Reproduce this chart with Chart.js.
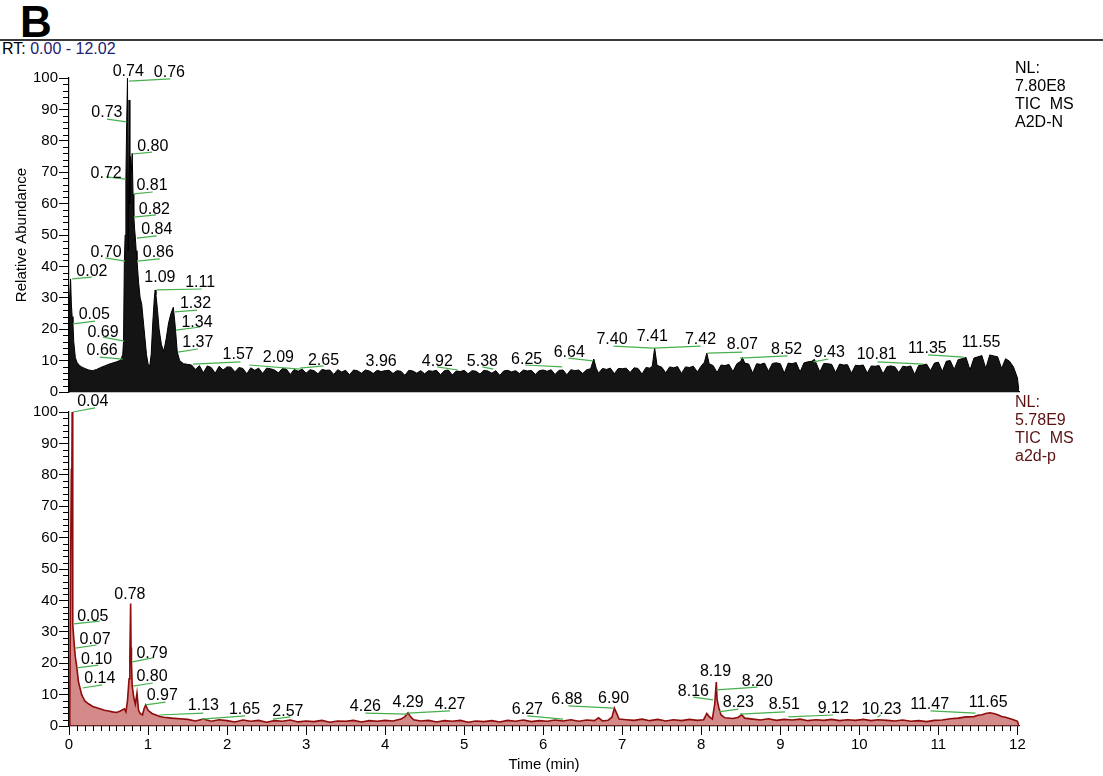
<!DOCTYPE html>
<html lang="en">
<head>
<meta charset="UTF-8">
<title>TIC MS - A2D-N / a2d-p</title>
<script src="https://cdn.jsdelivr.net/npm/chart.js"></script>
<style>
    body {
        margin: 0;
        background: #fff;
        font-family: Arial, "Liberation Sans", sans-serif;
    }
    #wrap {
        position: relative;
        width: 1103px;
        height: 776px;
        overflow: hidden;
    }
    canvas {
        position: absolute;
        left: 0;
        top: 0;
    }
    .txt {
        position: absolute;
        white-space: pre;
        font-size: 16px;
        line-height: 18px;
    }
</style>
</head>
<body>
<div id="wrap">
    <div class="txt" style="left:20px;top:0;font-weight:bold;font-size:44px;line-height:44px">B</div>
    <div style="position:absolute;left:0;top:39px;width:1103px;height:2px;background:#3a3a3a"></div>
    <div class="txt" style="left:2px;top:40px">RT: <span style="color:#1c2270">0.00 - 12.02</span></div>

    <canvas id="topChart" width="1103" height="776"></canvas>
    <canvas id="bottomChart" width="1103" height="776"></canvas>

    <div class="txt" style="left:1015px;top:59px;color:#000">NL:<br>7.80E8<br>TIC  MS<br>A2D-N</div>
    <div class="txt" style="left:1015px;top:393px;color:#5a1212">NL:<br>5.78E9<br>TIC  MS<br>a2d-p</div>
</div>

<script>
// ---- top trace: A2D-N (time in min, relative abundance in %)
const topTime = [
    0.00, 0.005, 0.01, 0.02, 0.03, 0.04, 0.05, 0.06, 0.08, 0.10,
    0.13, 0.16, 0.20, 0.25, 0.30, 0.35, 0.40, 0.45, 0.50, 0.55,
    0.60, 0.64, 0.66, 0.68, 0.69, 0.70, 0.71, 0.72, 0.73, 0.74,
    0.75, 0.76, 0.77, 0.78, 0.79, 0.80, 0.81, 0.82, 0.83, 0.84,
    0.85, 0.86, 0.88, 0.90, 0.92, 0.95, 0.98, 1.00, 1.02, 1.04,
    1.06, 1.08, 1.09, 1.10, 1.12, 1.14, 1.17, 1.20, 1.23, 1.26,
    1.29, 1.32, 1.34, 1.35, 1.37, 1.40, 1.45, 1.50,
    1.55, 1.60, 1.65, 1.70, 1.75, 1.80, 1.85, 1.90, 1.95, 2.00,
    2.05, 2.10, 2.15, 2.20, 2.25, 2.30, 2.35, 2.40, 2.45, 2.50,
    2.55, 2.60, 2.65, 2.70, 2.75, 2.80, 2.85, 2.90, 2.95, 3.00,
    3.05, 3.10, 3.15, 3.20, 3.25, 3.30, 3.35, 3.40, 3.45, 3.50,
    3.55, 3.60, 3.65, 3.70, 3.75, 3.80, 3.85, 3.90, 3.95, 4.00,
    4.05, 4.10, 4.15, 4.20, 4.25, 4.30, 4.35, 4.40, 4.45, 4.50,
    4.55, 4.60, 4.65, 4.70, 4.75, 4.80, 4.85, 4.90, 4.95, 5.00,
    5.05, 5.10, 5.15, 5.20, 5.25, 5.30, 5.35, 5.40, 5.45, 5.50,
    5.55, 5.60, 5.65, 5.70, 5.75, 5.80, 5.85, 5.90, 5.95, 6.00,
    6.05, 6.10, 6.15, 6.20, 6.25, 6.30, 6.35, 6.40, 6.45, 6.50,
    6.55, 6.60, 6.64, 6.67, 6.70, 6.75, 6.80, 6.85, 6.90, 6.95,
    7.00, 7.05, 7.10, 7.15, 7.20, 7.25, 7.30, 7.35, 7.38, 7.41,
    7.44, 7.50, 7.55, 7.60, 7.65, 7.70, 7.75, 7.80, 7.85, 7.90,
    7.95, 8.00, 8.04, 8.07, 8.10, 8.15, 8.20, 8.25, 8.30, 8.35,
    8.40, 8.45, 8.50, 8.52, 8.55, 8.60, 8.65, 8.70, 8.75, 8.80,
    8.85, 8.90, 8.95, 9.00, 9.05, 9.10, 9.15, 9.20, 9.25, 9.30,
    9.35, 9.40, 9.43, 9.45, 9.50, 9.55, 9.60, 9.65, 9.70, 9.75,
    9.80, 9.85, 9.90, 9.95, 10.00, 10.05, 10.10, 10.15, 10.20, 10.25,
    10.30, 10.35, 10.40, 10.45, 10.50, 10.55, 10.60, 10.65, 10.70, 10.75,
    10.80, 10.85, 10.90, 10.95, 11.00, 11.05, 11.10, 11.15, 11.20, 11.25,
    11.30, 11.35, 11.40, 11.45, 11.50, 11.55, 11.60, 11.65, 11.70, 11.75,
    11.80, 11.85, 11.90, 11.95, 12.00, 12.02
];
const topAbund = [
    0, 20, 30, 36, 28, 24, 22, 16, 11, 9.5,
    8.5, 8, 7.5, 7, 6.8, 7.2, 7.8, 8.3, 8.8, 9.2,
    9.6, 10, 10.5, 12, 16, 41, 50, 68, 86, 100,
    45, 93, 60, 75, 70, 76, 63, 56, 52, 49,
    45, 42, 35, 30, 28, 20, 12, 9, 8, 12,
    22, 30, 32.5, 31, 26, 20, 15, 13, 17, 22,
    25, 27, 22, 19, 12.7, 10, 9, 8.8,
    8.6, 7.2, 8.4, 6.1, 8.3, 7.8, 6.0, 8.2, 7.0, 8.0,
    7.9, 6.4, 7.8, 7.5, 5.8, 7.7, 6.9, 7.6, 5.9, 7.6,
    7.4, 7.0, 6.1, 7.5, 7.3, 5.6, 7.2, 6.6, 7.3, 6.0,
    7.1, 6.8, 5.8, 7.2, 6.9, 7.0, 5.6, 7.1, 6.4, 6.9,
    5.5, 7.0, 6.8, 6.0, 7.0, 6.7, 5.9, 6.9, 6.5, 6.8,
    6.9, 5.9, 6.8, 6.6, 5.3, 6.9, 6.7, 6.0, 6.8, 5.8,
    6.8, 6.6, 6.9, 5.5, 6.8, 7.0, 5.4, 6.7, 6.5, 6.9,
    5.8, 6.8, 6.6, 5.7, 6.9, 6.7, 6.0, 6.8, 5.3, 6.7,
    6.9, 6.4, 6.8, 5.9, 7.0, 6.7, 6.9, 5.6, 6.8, 7.0,
    6.6, 7.1, 5.6, 6.9, 7.0, 5.5, 7.1, 6.8, 7.0, 5.9,
    7.1, 7.4, 10.5, 7.6, 6.0, 7.5, 7.2, 7.6, 5.8, 7.5,
    7.4, 7.6, 6.2, 7.7, 7.5, 5.7, 7.8, 7.6, 8.2, 14,
    8.5, 7.9, 6.1, 8.0, 7.7, 8.1, 5.9, 8.0, 7.8, 8.2,
    6.4, 8.3, 9.5, 12.4, 9.0, 8.4, 6.2, 8.6, 8.4, 8.8,
    6.5, 9.0, 9.8, 11, 9.2, 8.9, 6.0, 9.0, 8.8, 9.2,
    6.6, 9.1, 9.3, 9.0, 6.0, 9.2, 9.0, 9.4, 6.4, 9.3,
    9.6, 9.8, 10.4, 9.4, 6.4, 9.1, 9.0, 8.8, 6.2, 8.9,
    8.6, 8.7, 6.0, 8.5, 8.4, 8.6, 6.0, 8.3, 8.2, 8.4,
    5.8, 8.1, 8.3, 8.0, 6.2, 8.2, 8.0, 8.3, 5.6, 8.4,
    8.6, 8.9, 6.8, 9.2, 9.5, 6.5, 9.8, 10.0, 7.2, 10.3,
    10.6, 11.0, 7.0, 10.8, 11.2, 11.6, 7.5, 11.8, 11.5, 11.2,
    7.5, 10.6, 9.8, 8.0, 4.5, 0
];

// ---- bottom trace: a2d-p
const botTime = [
    0.00, 0.01, 0.02, 0.03, 0.035, 0.04, 0.045, 0.05, 0.06, 0.07,
    0.08, 0.10, 0.12, 0.14, 0.16, 0.18, 0.20, 0.25, 0.30, 0.35,
    0.40, 0.45, 0.50, 0.55, 0.60, 0.65, 0.70, 0.72, 0.74, 0.76,
    0.77, 0.78, 0.785, 0.79, 0.80, 0.82, 0.84, 0.86, 0.88, 0.90,
    0.93, 0.95, 0.97, 1.00, 1.05, 1.10, 1.15, 1.20, 1.30, 1.40,
    1.50, 1.60, 1.70, 1.80, 1.90, 2.00, 2.10, 2.20, 2.30, 2.40,
    2.50, 2.60, 2.70, 2.80, 2.90, 3.00, 3.10, 3.20, 3.30, 3.40,
    3.50, 3.60, 3.70, 3.80, 3.90, 4.00, 4.10, 4.20, 4.25, 4.29,
    4.32, 4.36, 4.45, 4.55, 4.65, 4.75, 4.85, 4.95, 5.05, 5.15,
    5.25, 5.35, 5.45, 5.55, 5.65, 5.75, 5.85, 5.95, 6.05, 6.15,
    6.25, 6.35, 6.45, 6.55, 6.65, 6.70, 6.75, 6.82, 6.87, 6.90,
    6.93, 6.96, 7.05, 7.15, 7.25, 7.35, 7.45, 7.55, 7.65, 7.75,
    7.85, 7.95, 8.03, 8.07, 8.10, 8.14, 8.17, 8.19, 8.20, 8.22,
    8.25, 8.30, 8.40, 8.47, 8.51, 8.55, 8.65, 8.75, 8.85, 8.95,
    9.05, 9.15, 9.25, 9.35, 9.45, 9.55, 9.65, 9.75, 9.85, 9.95,
    10.05, 10.15, 10.23, 10.35, 10.45, 10.55, 10.65, 10.75, 10.85, 10.95,
    11.05, 11.15, 11.25, 11.35, 11.45, 11.50, 11.55, 11.60, 11.65, 11.70,
    11.75, 11.80, 11.85, 11.90, 11.95, 12.00, 12.02
];
const botAbund = [
    0, 5, 50, 82, 74, 100, 60, 32.5, 28, 24.8,
    22, 18.5, 14, 12, 10, 9, 8, 7, 6.2, 5.8,
    5.4, 5.0, 4.8, 4.5, 4.3, 4.8, 5.5, 4.5, 8, 15,
    22, 39, 25, 20.4, 12.7, 9, 7, 10.5, 5, 4,
    3.5, 5.5, 6.7, 5, 4, 3.5, 3, 2.8, 2.5, 2.3,
    2.1, 1.6, 2.2, 1.5, 2.0, 1.7, 1.3, 1.9, 1.5, 1.8,
    1.2, 1.7, 1.5, 1.9, 1.3, 1.6, 1.4, 1.8, 1.2, 1.6,
    1.5, 1.8, 1.3, 1.7, 1.5, 1.8, 1.6, 2.2, 3.0, 4.2,
    3.0, 2.0, 1.6, 1.8, 1.3, 1.7, 1.5, 1.8, 1.2, 1.6,
    1.4, 1.7, 1.3, 1.8, 1.5, 1.9, 1.4, 1.7, 1.5, 1.9,
    1.6, 2.0, 1.5, 1.9, 1.7, 2.6, 1.6, 1.8, 2.8, 5.7,
    4.0, 2.2, 2.0, 1.8, 2.2, 1.7, 2.1, 1.6, 2.0, 1.7,
    2.1, 1.8, 2.0, 4.0, 3.0, 2.2, 7, 14, 8.5, 6,
    3.5, 2.6, 2.4, 2.8, 3.6, 2.5, 2.2, 1.9, 2.3, 1.8,
    2.1, 1.9, 2.2, 1.7, 2.0, 1.8, 2.1, 1.7, 2.0, 1.8,
    2.1, 1.7, 2.0, 1.8, 1.6, 1.9, 1.5, 1.7, 1.4, 1.8,
    1.9, 2.3, 2.5, 2.9, 3.0, 3.4, 3.6, 4.0, 4.2, 4.0,
    3.6, 3.0, 2.8, 2.4, 2.0, 1.5, 0
];

// ---- peak labels (text placed at [time, abundance])
const topLabelText = ['0.02', '0.05', '0.69', '0.66', '0.70', '0.72', '0.73', '0.74', '0.76', '0.80',
    '0.81', '0.82', '0.84', '0.86', '1.09', '1.11', '1.32', '1.34', '1.37', '1.57',
    '2.09', '2.65', '3.96', '4.92', '5.38', '6.25', '6.64', '7.40', '7.41', '7.42',
    '8.07', '8.52', '9.43', '10.81', '11.35', '11.55'];
const topLabelTime = [0.29, 0.32, 0.43, 0.42, 0.47, 0.47, 0.48, 0.75, 1.27, 1.06,
    1.05, 1.08, 1.11, 1.13, 1.15, 1.66, 1.60, 1.62, 1.63, 2.14,
    2.65, 3.22, 3.95, 4.66, 5.23, 5.79, 6.33, 6.87, 7.38, 7.99,
    8.52, 9.08, 9.62, 10.22, 10.86, 11.54];
const topLabelLevel = [38.5, 24.5, 18.8, 13.1, 44.3, 69.7, 88.9, 101.9, 101.6, 78.3,
    65.6, 58.0, 51.6, 44.3, 36.3, 34.7, 28.0, 22.0, 15.6, 11.8,
    10.8, 9.9, 9.6, 9.6, 9.6, 10.2, 12.7, 16.6, 17.5, 16.6,
    15.0, 13.4, 12.7, 11.8, 13.7, 15.6];
// green leader lines: [t1, y1, t2, y2]
const topLeaders = [
    [0.04, 36.0, 0.29, 36.6], [0.05, 21.7, 0.33, 22.6], [0.43, 17.5, 0.70, 16.2],
    [0.39, 11.1, 0.68, 10.5], [0.46, 42.7, 0.71, 41.7], [0.47, 68.5, 0.72, 67.8],
    [0.48, 86.9, 0.73, 86.0], [0.76, 99.0, 1.28, 99.7], [0.81, 75.8, 1.05, 76.4],
    [0.82, 63.1, 1.06, 63.7], [0.82, 55.7, 1.10, 56.4], [0.86, 49.0, 1.11, 49.7],
    [0.86, 41.7, 1.15, 42.4], [1.11, 32.5, 1.68, 32.8], [1.34, 25.5, 1.62, 26.1],
    [1.35, 19.7, 1.66, 20.7], [1.38, 12.7, 1.63, 13.7], [1.57, 8.9, 2.17, 9.6],
    [2.28, 8.6, 2.92, 7.3], [2.92, 7.6, 3.22, 8.3], [4.66, 8.0, 4.92, 7.0],
    [5.23, 8.0, 5.37, 7.3], [5.77, 8.6, 6.24, 8.0], [6.32, 10.8, 6.63, 9.9],
    [6.89, 14.6, 7.39, 14.0], [7.39, 14.0, 7.99, 14.6], [8.08, 12.4, 8.52, 12.7],
    [8.49, 10.8, 9.09, 11.5], [9.42, 9.6, 9.61, 10.5], [10.23, 9.6, 10.81, 8.9],
    [10.87, 11.8, 11.32, 11.1]
];

const botLabelText = ['0.04', '0.05', '0.07', '0.10', '0.14', '0.78', '0.79', '0.80', '0.97', '1.13',
    '1.65', '2.57', '4.26', '4.29', '4.27', '6.27', '6.88', '6.90', '8.16', '8.19',
    '8.20', '8.23', '8.51', '9.12', '10.23', '11.47', '11.65'];
const botLabelTime = [0.30, 0.30, 0.33, 0.35, 0.39, 0.77, 1.05, 1.05, 1.18, 1.70,
    2.22, 2.77, 3.75, 4.29, 4.82, 5.80, 6.30, 6.89, 7.90, 8.18,
    8.71, 8.47, 9.05, 9.67, 10.28, 10.89, 11.63];
const botLabelLevel = [103.2, 35.0, 27.4, 21.0, 15.0, 42.0, 23.2, 15.6, 9.6, 6.4,
    5.1, 4.5, 6.1, 7.3, 6.7, 5.1, 8.3, 8.6, 11.1, 17.2,
    14.0, 7.3, 6.7, 5.7, 5.1, 6.7, 7.6];
const botLeaders = [
    [0.05, 100, 0.33, 101.3], [0.06, 32.5, 0.39, 33.4], [0.08, 24.8, 0.35, 25.8],
    [0.10, 18.5, 0.37, 19.4], [0.17, 12.1, 0.42, 13.1], [0.80, 20.4, 1.06, 21.7],
    [0.81, 12.7, 1.06, 13.7], [0.97, 6.7, 1.22, 7.6], [1.14, 3.5, 1.70, 4.1],
    [1.68, 2.2, 2.23, 3.2], [2.58, 2.2, 2.80, 2.9], [3.75, 4.1, 4.28, 3.8],
    [4.29, 4.1, 4.82, 4.8], [5.80, 3.2, 6.25, 2.2], [6.32, 6.4, 6.89, 5.7],
    [7.90, 9.2, 8.15, 8.3], [8.19, 11.5, 8.71, 12.4], [8.22, 4.5, 8.47, 5.4],
    [8.49, 3.8, 9.06, 4.5], [9.10, 2.9, 9.67, 3.5], [10.23, 2.9, 10.27, 3.5],
    [10.90, 4.8, 11.47, 4.1]
];

const FONT = 'Arial, "Liberation Sans", sans-serif';
Chart.defaults.font.family = FONT;
Chart.defaults.color = '#000';

// draws the retention-time labels and their green leader lines
const peakLabels = {
    id: 'peakLabels',
    afterDatasetsDraw(chart, args, opts) {
        const { ctx, scales: { x, y } } = chart;
        ctx.save();
        ctx.strokeStyle = '#46b04e';
        ctx.lineWidth = 1.2;
        opts.leaders.forEach(l => {
            ctx.beginPath();
            ctx.moveTo(x.getPixelForValue(l[0]), y.getPixelForValue(l[1]));
            ctx.lineTo(x.getPixelForValue(l[2]), y.getPixelForValue(l[3]));
            ctx.stroke();
        });
        ctx.fillStyle = '#000';
        ctx.font = '16px ' + FONT;
        ctx.textAlign = 'center';
        ctx.textBaseline = 'middle';
        opts.text.forEach((s, i) => {
            ctx.fillText(s, x.getPixelForValue(opts.time[i]), y.getPixelForValue(opts.level[i]));
        });
        ctx.restore();
    }
};

// small ticks between the labelled ones
const minorTicks = {
    id: 'minorTicks',
    afterDraw(chart, args, opts) {
        const { ctx, chartArea: a, scales: { x, y } } = chart;
        ctx.save();
        ctx.strokeStyle = '#000';
        ctx.lineWidth = 1;
        ctx.beginPath();
        for (let v = 2; v < 100; v += 2) {
            if (v % 10 === 0) continue;
            const py = Math.round(y.getPixelForValue(v)) + 0.5;
            ctx.moveTo(a.left - 6, py);
            ctx.lineTo(a.left, py);
        }
        if (opts.xMinor) {
            for (let i = 1; i < 121; i++) {
                if (i % 10 === 0) continue;
                const px = Math.round(x.getPixelForValue(i / 10)) + 0.5;
                ctx.moveTo(px, a.bottom);
                ctx.lineTo(px, a.bottom + 5);
            }
        }
        ctx.stroke();
        ctx.restore();
    }
};

function yAxis(withTitle) {
    return {
        min: 0,
        max: 100,
        ticks: { stepSize: 10, color: '#000', font: { size: 15 }, padding: 1 },
        grid: { drawOnChartArea: false, tickLength: 10, color: '#000' },
        border: { color: '#000', width: 1.2 },
        title: {
            display: withTitle,
            text: 'Relative Abundance',
            color: '#000',
            font: { size: 15 },
            padding: { top: 13, bottom: 0 }
        },
        afterFit: s => { s.width = 69; }
    };
}

// Top panel: A2D-N
new Chart(document.getElementById('topChart'), {
    type: 'line',
    data: {
        datasets: [{
            data: topTime.map((t, i) => ({ x: t, y: topAbund[i] })),
            borderColor: '#000',
            borderWidth: 1,
            backgroundColor: '#141414',
            fill: 'origin',
            pointRadius: 0,
            tension: 0
        }]
    },
    options: {
        responsive: false,
        animation: false,
        events: [],
        layout: { padding: { left: 0, top: 78, right: 84, bottom: 384 } },
        plugins: {
            legend: { display: false },
            tooltip: { enabled: false },
            peakLabels: { text: topLabelText, time: topLabelTime, level: topLabelLevel, leaders: topLeaders },
            minorTicks: { xMinor: false }
        },
        scales: {
            x: {
                type: 'linear',
                min: 0,
                max: 12.02,
                ticks: { display: false },
                grid: { display: false },
                border: { color: '#000', width: 1.2 },
                afterFit: s => { s.height = 0; }
            },
            y: yAxis(true)
        }
    },
    plugins: [peakLabels, minorTicks]
});

// Bottom panel: a2d-p
new Chart(document.getElementById('bottomChart'), {
    type: 'line',
    data: {
        datasets: [{
            data: botTime.map((t, i) => ({ x: t, y: botAbund[i] })),
            borderColor: '#8e0c0c',
            borderWidth: 1.6,
            backgroundColor: 'rgba(185, 60, 60, 0.6)',
            fill: 'origin',
            pointRadius: 0,
            tension: 0
        }]
    },
    options: {
        responsive: false,
        animation: false,
        events: [],
        layout: { padding: { left: 0, top: 412, right: 84, bottom: 0 } },
        plugins: {
            legend: { display: false },
            tooltip: { enabled: false },
            peakLabels: { text: botLabelText, time: botLabelTime, level: botLabelLevel, leaders: botLeaders },
            minorTicks: { xMinor: true }
        },
        scales: {
            x: {
                type: 'linear',
                min: 0,
                max: 12.02,
                ticks: { stepSize: 1, includeBounds: false, color: '#000', font: { size: 15 }, padding: 1 },
                grid: { drawOnChartArea: false, tickLength: 9, color: '#000' },
                border: { color: '#000', width: 1.2 },
                title: {
                    display: true,
                    text: 'Time (min)',
                    color: '#000',
                    font: { size: 15 },
                    padding: { top: 0, bottom: 2 }
                },
                afterFit: s => { s.height = 50; }
            },
            y: yAxis(false)
        }
    },
    plugins: [peakLabels, minorTicks]
});
</script>
</body>
</html>
